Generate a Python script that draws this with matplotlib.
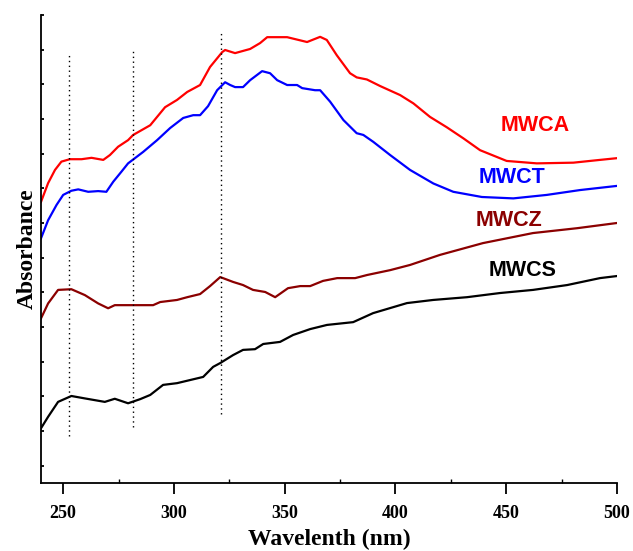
import matplotlib
matplotlib.use("Agg")
import matplotlib.pyplot as plt
from matplotlib.ticker import MultipleLocator, NullFormatter

# ---------------------------------------------
# DATA (absorbance, a.u.)
# ---------------------------------------------
wl_mwca = [240, 243.2, 246.3, 249.2, 253.0, 258.3, 262.8, 268.1, 271.1, 274.8,
           279.3, 281.6, 289.3, 296.0, 301.4, 306.0, 311.8, 316.3, 321.8, 323.1,
           327.6, 334.4, 338.9, 342.1, 351.1, 360.1, 366.0, 369.0, 373.5, 379.5,
           382.5, 387.1, 393.1, 402.1, 408.1, 415.6, 423.2, 430.7, 438.2, 450.2,
           463.8, 480.3, 492.3, 500]
abs_mwca = [0.811, 0.865, 0.903, 0.927, 0.934, 0.934, 0.938, 0.932, 0.946, 0.970,
            0.989, 1.004, 1.032, 1.084, 1.105, 1.128, 1.148, 1.200, 1.243, 1.249,
            1.240, 1.252, 1.269, 1.286, 1.286, 1.272, 1.287, 1.278, 1.234, 1.182,
            1.170, 1.164, 1.145, 1.119, 1.095, 1.056, 1.026, 0.994, 0.960, 0.929,
            0.922, 0.924, 0.932, 0.937]

wl_mwct = [240, 243.2, 247.0, 250.0, 253.7, 256.8, 261.3, 265.8, 269.5, 272.6,
           276.3, 279.3, 286.1, 292.4, 298.3, 304.2, 308.7, 311.8, 315.4, 319.5,
           323.1, 325.4, 327.6, 331.2, 334.4, 339.8, 343.4, 346.6, 351.1, 355.6,
           357.9, 363.7, 366.0, 370.5, 376.5, 382.5, 385.5, 390.0, 397.6, 406.6,
           417.1, 426.1, 439.0, 453.2, 468.3, 483.3, 500]
abs_mwct = [0.706, 0.758, 0.802, 0.831, 0.843, 0.847, 0.840, 0.842, 0.840, 0.869,
            0.898, 0.922, 0.955, 0.989, 1.024, 1.053, 1.061, 1.061, 1.087, 1.133,
            1.156, 1.148, 1.142, 1.142, 1.162, 1.188, 1.182, 1.162, 1.148, 1.148,
            1.139, 1.133, 1.133, 1.100, 1.047, 1.009, 1.004, 0.984, 0.946, 0.903,
            0.864, 0.840, 0.825, 0.821, 0.831, 0.845, 0.857]

wl_mwcz = [240, 243.2, 247.7, 253.7, 259.8, 265.8, 270.3, 273.3, 279.3, 290.6,
           293.8, 301.4, 306.0, 311.8, 316.3, 320.9, 326.7, 331.2, 335.7, 341.2,
           345.7, 351.5, 357.0, 361.5, 367.3, 373.7, 381.8, 387.2, 397.6, 406.6,
           420.1, 439.5, 462.1, 482.0, 500]
abs_mwcz = [0.475, 0.518, 0.557, 0.559, 0.542, 0.518, 0.504, 0.513, 0.513, 0.513,
            0.522, 0.528, 0.536, 0.545, 0.568, 0.594, 0.580, 0.571, 0.557, 0.551,
            0.536, 0.562, 0.568, 0.568, 0.583, 0.591, 0.591, 0.600, 0.614, 0.629,
            0.658, 0.692, 0.721, 0.735, 0.750]

wl_mwcs = [240, 243.2, 247.7, 253.7, 259.8, 268.8, 273.3, 279.3, 284.8, 289.3,
           295.1, 301.4, 307.3, 313.2, 317.7, 320.9, 326.7, 331.2, 336.6, 340.3,
           347.9, 353.8, 361.5, 369.1, 380.9, 389.9, 405.2, 417.0, 432.3, 447.2,
           462.1, 477.5, 492.3, 500]
abs_mwcs = [0.158, 0.191, 0.234, 0.251, 0.244, 0.234, 0.243, 0.230, 0.242, 0.254,
            0.283, 0.288, 0.297, 0.306, 0.335, 0.346, 0.369, 0.384, 0.386, 0.401,
            0.407, 0.427, 0.444, 0.456, 0.464, 0.490, 0.519, 0.528, 0.536, 0.548,
            0.557, 0.571, 0.591, 0.597]

# dotted guide lines: wavelength, bottom, top
guide_wl = [252.5, 281.5, 321.3]
guide_lo = [0.136, 0.162, 0.199]
guide_hi = [1.243, 1.249, 1.306]

labels = ['MWCA', 'MWCT', 'MWCZ', 'MWCS']
label_x = [462.9, 452.6, 451.3, 457.6]
label_y = [1.030, 0.880, 0.758, 0.614]
colors = ['#FF0000', '#0000FF', '#8B0000', '#000000']

# ------------
# PLOT
# ------------
fig = plt.figure(figsize=(6.33, 5.51), dpi=100)
ax = fig.add_axes([0.0648, 0.1234, 0.9099, 0.8494])

series = [(wl_mwca, abs_mwca), (wl_mwct, abs_mwct),
          (wl_mwcz, abs_mwcz), (wl_mwcs, abs_mwcs)]
for (x, y), c in zip(series, colors):
    ax.plot(x, y, color=c, lw=1.6, solid_joinstyle='round')

for x, lo, hi in zip(guide_wl, guide_lo, guide_hi):
    ax.plot([x, x], [lo, hi], color='black', lw=1.0, ls=(0, (1, 2.5)))

for t, x, y, c in zip(labels, label_x, label_y, colors):
    ax.text(x, y, t, color=c, fontsize=15.5, fontweight='bold',
            family='Liberation Sans', ha='center', va='center')

ax.set_xlim(240, 500)
ax.set_ylim(0, 1.35)
ax.spines['top'].set_visible(False)
ax.spines['right'].set_visible(False)
ax.spines['left'].set_linewidth(1.3)
ax.spines['bottom'].set_linewidth(1.3)

ax.xaxis.set_major_locator(MultipleLocator(50))
ax.xaxis.set_minor_locator(MultipleLocator(25))
ax.tick_params(axis='x', which='major', direction='out', length=8, width=1.3,
               pad=8)
ax.tick_params(axis='x', which='minor', direction='in', length=3, width=1.0)
ax.set_yticks([0.05 + 0.1 * i for i in range(14)])
ax.yaxis.set_major_formatter(NullFormatter())
ax.tick_params(axis='y', which='major', direction='in', length=2, width=1.3)

for lab in ax.get_xticklabels():
    lab.set_family('Liberation Serif')
    lab.set_fontweight('bold')
    lab.set_fontsize(13)

ax.set_xlabel('Wavelenth (nm)', family='Liberation Serif', fontweight='bold',
              fontsize=17, labelpad=5)
ax.set_ylabel('Absorbance', family='Liberation Serif', fontweight='bold',
              fontsize=17, labelpad=-1)

fig.savefig('out.png', dpi=100)
